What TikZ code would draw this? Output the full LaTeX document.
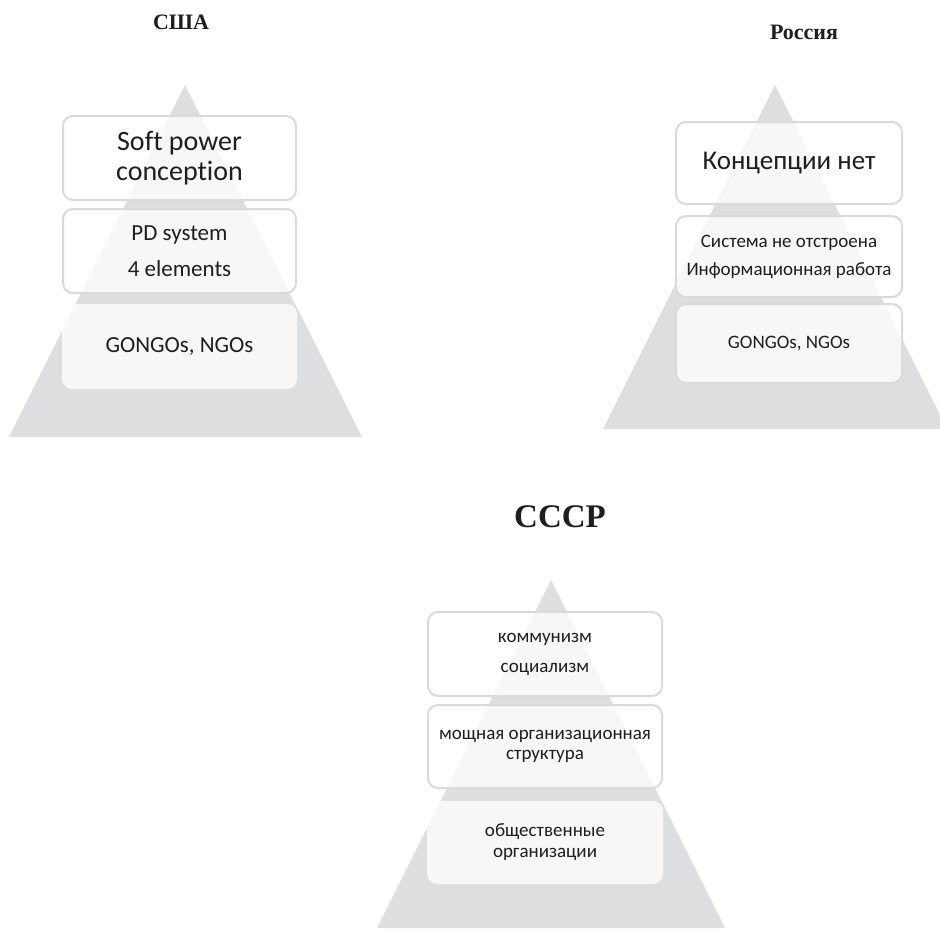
\documentclass[tikz,border=0pt]{standalone}
\usepackage{fontspec}
\setmainfont{Carlito}[Ligatures=NoCommon]
\newfontfamily\titlefont{Liberation Serif}
\definecolor{pyr}{RGB}{221,222,224}
\definecolor{rim}{RGB}{218,218,218}
\definecolor{ink}{RGB}{30,30,30}
\begin{document}
\begin{tikzpicture}[x=1pt,y=-1pt,
		pyramid/.style={fill=pyr},
		level/.style={draw=rim,line width=2pt,rounded corners=10pt,fill=white,fill opacity=0.78,text opacity=1,
			inner sep=0pt,align=center,text=ink},
		heading/.style={font=\titlefont\bfseries\fontsize{#1}{#1}\selectfont,text=ink}]
		\clip (0,0) rectangle (940,929);
		\fill[white] (0,0) rectangle (940,929);
		\node[heading=22] (usa) at (181,22) {США};
		\node[heading=22] (rus) at (804,32) {Россия};
		\node[heading=33] (ussr) at (560,517) {СССР};
		\fill[pyramid] (185,85) -- (362,437) -- (9,437) -- cycle;
		\fill[pyramid] (775,85) -- (947,429) -- (603,429) -- cycle;
		\fill[pyramid] (551,580) -- (725,928) -- (377,928) -- cycle;
		\node[level,minimum width=233pt,minimum height=84pt,font=\fontsize{28}{30}\selectfont] (usa1) at (179.5,158) {Soft power\\conception};
		\node[level,minimum width=233pt,minimum height=84pt,font=\fontsize{23}{36}\selectfont] (usa2) at (179.5,251) {PD system\\4 elements};
		\node[level,draw=none,minimum width=235pt,minimum height=85pt,font=\fontsize{23}{28}\selectfont] (usa3) at (179.5,346.5) {GONGOs, NGOs};
		\node[level,minimum width=226pt,minimum height=82pt,font=\fontsize{27}{30}\selectfont] (rus1) at (789,163) {Концепции нет};
		\node[level,minimum width=226pt,minimum height=81pt,font=\fontsize{19}{28}\selectfont] (rus2) at (789,256.5) {Система не отстроена\\Информационная работа};
		\node[level,minimum width=226pt,minimum height=79pt,font=\fontsize{19}{23}\selectfont] (rus3) at (789,343.5) {GONGOs, NGOs};
		\node[level,minimum width=234pt,minimum height=84pt,font=\fontsize{19}{30}\selectfont] (ussr1) at (545,654) {коммунизм\\социализм};
		\node[level,minimum width=234pt,minimum height=83pt,font=\fontsize{19}{20}\selectfont] (ussr2) at (545,746.5) {мощная организационная\\структура};
		\node[level,draw=none,minimum width=236pt,minimum height=83pt,font=\fontsize{19}{21}\selectfont] (ussr3) at (545,842.5) {общественные\\организации};
\end{tikzpicture}
\end{document}
